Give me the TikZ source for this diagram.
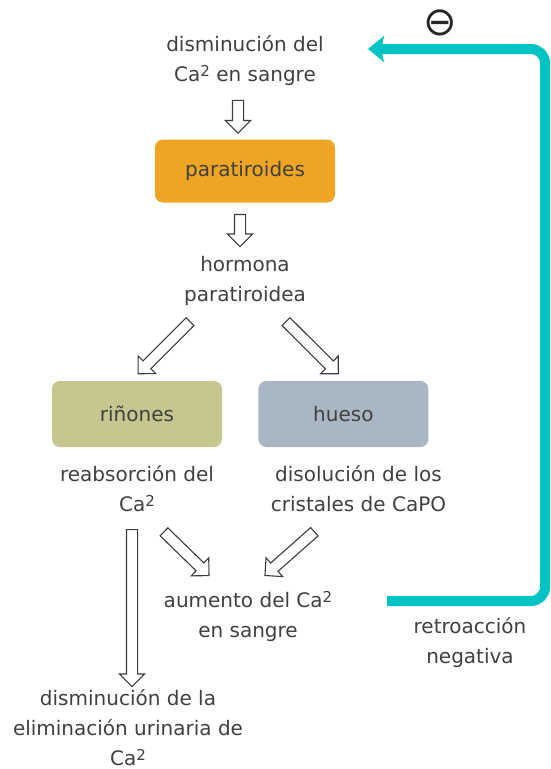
\documentclass[tikz,border=0pt]{standalone}
\usepackage{fontspec}
\setmainfont{DejaVu Sans}
\usetikzlibrary{positioning}
\usetikzlibrary{shapes.arrows,arrows.meta,calc}

\definecolor{txtgray}{HTML}{404040}
\definecolor{paraorange}{HTML}{EEA523}
\definecolor{rinolive}{HTML}{C6C78F}
\definecolor{huesoblue}{HTML}{A9B6C4}
\definecolor{fbteal}{HTML}{00C3C3}
\definecolor{arrgray}{HTML}{3C3C3C}

\newcommand{\supdos}{\raisebox{5pt}{\fontsize{15}{15}\selectfont 2}}

\tikzset{
	txt/.style={align=center, inner sep=0pt, text=txtgray, font=\fontsize{20}{30}\selectfont},
	organ/.style={rounded corners=8pt, minimum width=170pt, minimum height=66pt, inner sep=0pt, text=txtgray, font=\fontsize{20}{30}\selectfont},
	hollow/.style={single arrow, draw=arrgray, fill=white, line width=1.1pt, inner sep=5pt, single arrow head extend=7pt, single arrow tip angle=90},
	feedback/.style={draw=fbteal, line width=10pt, rounded corners=14pt, -{Stealth[length=16pt,width=26pt,inset=3pt]}}
}

% hollow block arrow between two points
\newcommand{\hollowarrow}[2]{%
	\path let \p1=(#1), \p2=(#2), \p3=($(\p2)-(\p1)$), \n1={atan2(\y3,\x3)}, \n2={veclen(\x3,\y3)} in
		node[hollow, rotate=\n1, minimum height=\n2] at ($(\p1)!0.5!(\p2)$) {};}

\begin{document}
\begin{tikzpicture}[x=1pt,y=1pt]
	\useasboundingbox (0,0) rectangle (550,-769);

	% text nodes sit on the baseline of their last line
	\node[txt, anchor=base] (dism) at (245,-81) {disminución del\\Ca\supdos{} en sangre};
	\node[organ, fill=paraorange, minimum width=180pt, minimum height=63pt] (para) at (245,-171) {paratiroides};
	\node[txt, anchor=base] (hormona) at (245,-301) {hormona\\paratiroidea};
	\node[organ, fill=rinolive] (rin) at (137,-414) {riñones};
	\node[organ, fill=huesoblue] (hue) [right=36pt of rin] {hueso};
	\node[txt] (reabs) [below=18pt of rin] {reabsorción del\\Ca\supdos};
	\node[txt] (disol) [below right=18pt and -158pt of hue] {disolución de los\\cristales de CaPO};
	\node[txt, anchor=base] (aum) at (248,-637) {aumento del Ca\supdos\\en sangre};
	\node[txt, anchor=base] (elim) at (128,-765) {disminución de la\\eliminación urinaria de\\Ca\supdos};
	\node[txt, anchor=base] (retro) at (470,-663) {retroacción\\negativa};
	\node[text=black!85, font=\fontsize{40}{40}\selectfont] (minus) at (440,-23) {⊖};

	\hollowarrow{$(dism.south)+(-7,-12.3)$}{$(para.north)+(-7,9)$}
	\hollowarrow{$(para.south)+(-5,-9)$}{$(hormona.north)+(-5,11.8)$}
	\hollowarrow{$(hormona.south)+(-53,-14.3)$}{$(rin.north)+(3,9)$}
	\hollowarrow{$(hormona.south)+(39,-14.3)$}{$(hue.north)+(-7,9)$}
	\hollowarrow{$(reabs.south)+(-5,-15)$}{$(elim.north)+(4,5)$}
	\hollowarrow{$(reabs.south)+(25,-18)$}{$(aum.north)+(-41,17)$}
	\hollowarrow{$(disol.south)+(-42,-18)$}{$(aum.north)+(19,17)$}

	\coordinate (fbstart) at (387,-601);
	\coordinate (fbend) at (368,-49);
	\draw[feedback] (fbstart) -| ($(fbend)+(177,0)$) -- (fbend);
\end{tikzpicture}
\end{document}
